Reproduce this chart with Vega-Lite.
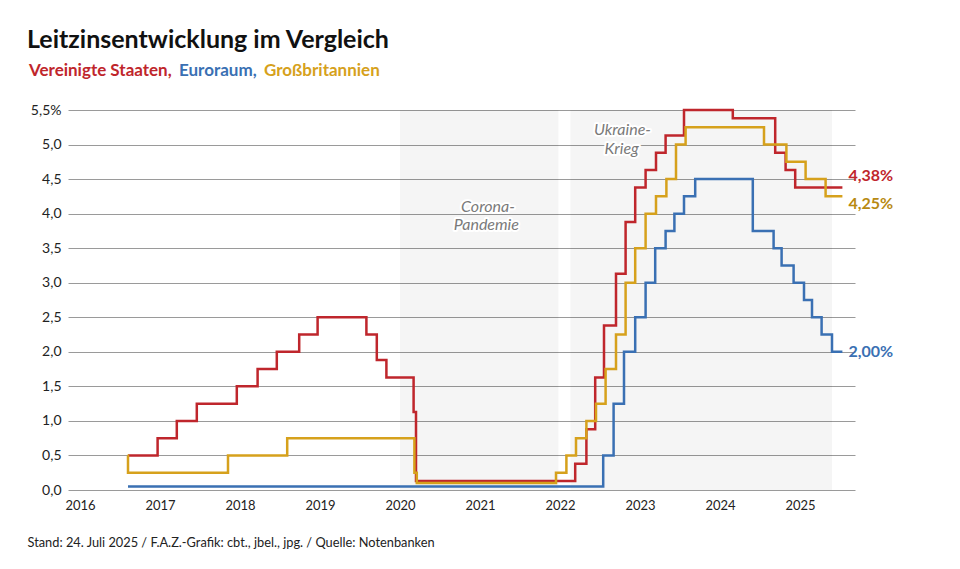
{
  "$schema": "https://vega.github.io/schema/vega-lite/v6.json",
  "autosize": "none",
  "width": 787,
  "height": 380,
  "padding": {"left": 68, "top": 110, "right": 105, "bottom": 79},
  "background": "white",
  "title": {
    "text": "Leitzinsentwicklung im Vergleich",
    "anchor": "start",
    "frame": "bounds",
    "font": "Lato",
    "fontSize": 25,
    "fontWeight": "bold",
    "color": "#111111",
    "offset": 9
  },
  "config": {
    "view": {"stroke": null},
    "font": "Lato"
  },
  "datasets": {
    "rates": [
      {"series": "Vereinigte Staaten", "t": 2016.60, "v": 0.5},
      {"series": "Vereinigte Staaten", "t": 2016.97, "v": 0.75},
      {"series": "Vereinigte Staaten", "t": 2017.21, "v": 1.0},
      {"series": "Vereinigte Staaten", "t": 2017.46, "v": 1.25},
      {"series": "Vereinigte Staaten", "t": 2017.96, "v": 1.5},
      {"series": "Vereinigte Staaten", "t": 2018.22, "v": 1.75},
      {"series": "Vereinigte Staaten", "t": 2018.46, "v": 2.0},
      {"series": "Vereinigte Staaten", "t": 2018.74, "v": 2.25},
      {"series": "Vereinigte Staaten", "t": 2018.97, "v": 2.5},
      {"series": "Vereinigte Staaten", "t": 2019.58, "v": 2.25},
      {"series": "Vereinigte Staaten", "t": 2019.71, "v": 1.88},
      {"series": "Vereinigte Staaten", "t": 2019.83, "v": 1.63},
      {"series": "Vereinigte Staaten", "t": 2020.17, "v": 1.13},
      {"series": "Vereinigte Staaten", "t": 2020.20, "v": 0.13},
      {"series": "Vereinigte Staaten", "t": 2022.19, "v": 0.38},
      {"series": "Vereinigte Staaten", "t": 2022.33, "v": 0.88},
      {"series": "Vereinigte Staaten", "t": 2022.44, "v": 1.63},
      {"series": "Vereinigte Staaten", "t": 2022.55, "v": 2.38},
      {"series": "Vereinigte Staaten", "t": 2022.70, "v": 3.13},
      {"series": "Vereinigte Staaten", "t": 2022.82, "v": 3.88},
      {"series": "Vereinigte Staaten", "t": 2022.94, "v": 4.38},
      {"series": "Vereinigte Staaten", "t": 2023.07, "v": 4.63},
      {"series": "Vereinigte Staaten", "t": 2023.20, "v": 4.88},
      {"series": "Vereinigte Staaten", "t": 2023.32, "v": 5.13},
      {"series": "Vereinigte Staaten", "t": 2023.55, "v": 5.5},
      {"series": "Vereinigte Staaten", "t": 2024.16, "v": 5.38},
      {"series": "Vereinigte Staaten", "t": 2024.69, "v": 4.88},
      {"series": "Vereinigte Staaten", "t": 2024.82, "v": 4.63},
      {"series": "Vereinigte Staaten", "t": 2024.94, "v": 4.38},
      {"series": "Vereinigte Staaten", "t": 2025.53, "v": 4.38},
      {"series": "Euroraum", "t": 2016.60, "v": 0.05},
      {"series": "Euroraum", "t": 2022.54, "v": 0.5},
      {"series": "Euroraum", "t": 2022.67, "v": 1.25},
      {"series": "Euroraum", "t": 2022.80, "v": 2.0},
      {"series": "Euroraum", "t": 2022.94, "v": 2.5},
      {"series": "Euroraum", "t": 2023.07, "v": 3.0},
      {"series": "Euroraum", "t": 2023.19, "v": 3.5},
      {"series": "Euroraum", "t": 2023.32, "v": 3.75},
      {"series": "Euroraum", "t": 2023.43, "v": 4.0},
      {"series": "Euroraum", "t": 2023.55, "v": 4.25},
      {"series": "Euroraum", "t": 2023.69, "v": 4.5},
      {"series": "Euroraum", "t": 2024.41, "v": 3.75},
      {"series": "Euroraum", "t": 2024.67, "v": 3.5},
      {"series": "Euroraum", "t": 2024.77, "v": 3.25},
      {"series": "Euroraum", "t": 2024.92, "v": 3.0},
      {"series": "Euroraum", "t": 2025.05, "v": 2.75},
      {"series": "Euroraum", "t": 2025.15, "v": 2.5},
      {"series": "Euroraum", "t": 2025.27, "v": 2.25},
      {"series": "Euroraum", "t": 2025.40, "v": 2.0},
      {"series": "Euroraum", "t": 2025.53, "v": 2.0},
      {"series": "Großbritannien", "t": 2016.595, "v": 0.5},
      {"series": "Großbritannien", "t": 2016.60, "v": 0.25},
      {"series": "Großbritannien", "t": 2017.85, "v": 0.5},
      {"series": "Großbritannien", "t": 2018.59, "v": 0.75},
      {"series": "Großbritannien", "t": 2020.18, "v": 0.25},
      {"series": "Großbritannien", "t": 2020.21, "v": 0.1},
      {"series": "Großbritannien", "t": 2021.95, "v": 0.25},
      {"series": "Großbritannien", "t": 2022.08, "v": 0.5},
      {"series": "Großbritannien", "t": 2022.20, "v": 0.75},
      {"series": "Großbritannien", "t": 2022.33, "v": 1.0},
      {"series": "Großbritannien", "t": 2022.45, "v": 1.25},
      {"series": "Großbritannien", "t": 2022.57, "v": 1.75},
      {"series": "Großbritannien", "t": 2022.70, "v": 2.25},
      {"series": "Großbritannien", "t": 2022.82, "v": 3.0},
      {"series": "Großbritannien", "t": 2022.94, "v": 3.5},
      {"series": "Großbritannien", "t": 2023.07, "v": 4.0},
      {"series": "Großbritannien", "t": 2023.20, "v": 4.25},
      {"series": "Großbritannien", "t": 2023.33, "v": 4.5},
      {"series": "Großbritannien", "t": 2023.45, "v": 5.0},
      {"series": "Großbritannien", "t": 2023.57, "v": 5.25},
      {"series": "Großbritannien", "t": 2024.55, "v": 5.0},
      {"series": "Großbritannien", "t": 2024.83, "v": 4.75},
      {"series": "Großbritannien", "t": 2025.07, "v": 4.5},
      {"series": "Großbritannien", "t": 2025.32, "v": 4.25},
      {"series": "Großbritannien", "t": 2025.53, "v": 4.25}
    ],
    "periods": [
      {"name": "Corona-Pandemie", "start": 2020.0, "end": 2021.98},
      {"name": "Ukraine-Krieg", "start": 2022.13, "end": 2025.40}
    ],
    "notes": [
      {"text": "Corona-", "t": 2021.1, "v": 4.1},
      {"text": "Pandemie", "t": 2021.08, "v": 3.84},
      {"text": "Ukraine-", "t": 2022.78, "v": 5.21},
      {"text": "Krieg", "t": 2022.77, "v": 4.93}
    ],
    "ends": [
      {"series": "Vereinigte Staaten", "t": 2025.53, "v": 4.38, "label": "4,38%"},
      {"series": "Euroraum", "t": 2025.53, "v": 2.0, "label": "2,00%"},
      {"series": "Großbritannien", "t": 2025.53, "v": 4.25, "label": "4,25%"}
    ]
  },
  "layer": [
    {
      "data": {"name": "periods"},
      "mark": {"type": "rect", "fill": "#000000", "opacity": 0.038},
      "encoding": {
        "x": {
          "field": "start",
          "type": "quantitative",
          "scale": {"domain": [2015.85, 2025.6875], "nice": false, "zero": false},
          "axis": {
            "title": "Stand: 24. Juli 2025 / F.A.Z.-Grafik: cbt., jbel., jpg. / Quelle: Notenbanken",
            "titleFont": "Lato",
            "titleFontSize": 12.8,
            "titleFontWeight": "normal",
            "titleColor": "#222222",
            "titleAnchor": "start",
            "titleAlign": "left",
            "titleBaseline": "alphabetic",
            "titleX": -41,
            "titleY": 56,
            "values": [2016, 2017, 2018, 2019, 2020, 2021, 2022, 2023, 2024, 2025],
            "tickCount": 30,
            "format": "d",
            "grid": false,
            "ticks": false,
            "domain": false,
            "labelFont": "Lato",
            "labelFontSize": 13,
            "labelColor": "#222222",
            "labelPadding": 9
          }
        },
        "x2": {"field": "end"},
        "y": {
          "datum": 5.5,
          "type": "quantitative",
          "scale": {"domain": [0, 5.5], "nice": false},
          "axis": {
            "title": null,
            "tickCount": 30,
            "values": [0, 0.5, 1, 1.5, 2, 2.5, 3, 3.5, 4, 4.5, 5, 5.5],
            "labelExpr": "datum.value == 5.5 ? '5,5%' : replace(format(datum.value, '.1f'), '.', ',')",
            "labelOverlap": false,
            "grid": true,
            "gridColor": "#9a9a9a",
            "gridWidth": 1,
            "ticks": false,
            "domain": false,
            "labelFont": "Lato",
            "labelFontSize": 14,
            "labelColor": "#222222",
            "labelPadding": 7
          }
        },
        "y2": {"datum": 0}
      }
    },
    {
      "data": {"name": "rates"},
      "mark": {"type": "line", "interpolate": "step-after", "strokeWidth": 2.5, "strokeJoin": "miter", "strokeCap": "butt"},
      "encoding": {
        "x": {"field": "t", "type": "quantitative"},
        "y": {"field": "v", "type": "quantitative"},
        "color": {
          "field": "series",
          "type": "nominal",
          "scale": {
            "domain": ["Vereinigte Staaten", "Euroraum", "Großbritannien"],
            "range": ["#bf262c", "#3a70b3", "#d6a11c"]
          },
          "legend": {
            "title": null,
            "orient": "none",
            "legendX": -41,
            "legendY": -48,
            "direction": "horizontal",
            "symbolSize": 0.001,
            "symbolStrokeWidth": 0,
            "symbolOpacity": 0,
            "labelOffset": -15,
            "columnPadding": 5,
            "padding": 0,
            "labelFont": "Lato",
            "labelFontSize": 17,
            "labelFontWeight": "bold",
            "labelExpr": "datum.label == 'Großbritannien' ? datum.label : datum.label + ','",
            "encode": {
              "labels": {"update": {"fill": {"signal": "scale('color', datum.value)"}}}
            }
          }
        }
      }
    },
    {
      "data": {"name": "notes"},
      "mark": {"type": "text", "font": "Lato", "fontSize": 16, "fontStyle": "italic", "stroke": "white", "strokeWidth": 4, "strokeJoin": "round", "fill": "white"},
      "encoding": {
        "x": {"field": "t", "type": "quantitative"},
        "y": {"field": "v", "type": "quantitative"},
        "text": {"field": "text"}
      }
    },
    {
      "data": {"name": "notes"},
      "mark": {"type": "text", "font": "Lato", "fontSize": 16, "fontStyle": "italic", "fill": "#7a7a7a"},
      "encoding": {
        "x": {"field": "t", "type": "quantitative"},
        "y": {"field": "v", "type": "quantitative"},
        "text": {"field": "text"}
      }
    },
    {
      "data": {"name": "ends"},
      "transform": [{"filter": "datum.series == 'Vereinigte Staaten'"}],
      "mark": {"type": "text", "align": "left", "dx": 6, "dy": -11, "font": "Lato", "fontSize": 16, "fontWeight": "bold", "fill": "#bf262c"},
      "encoding": {
        "x": {"field": "t", "type": "quantitative"},
        "y": {"field": "v", "type": "quantitative"},
        "text": {"field": "label"}
      }
    },
    {
      "data": {"name": "ends"},
      "transform": [{"filter": "datum.series == 'Großbritannien'"}],
      "mark": {"type": "text", "align": "left", "dx": 6, "dy": 8, "font": "Lato", "fontSize": 16, "fontWeight": "bold", "fill": "#b88a12"},
      "encoding": {
        "x": {"field": "t", "type": "quantitative"},
        "y": {"field": "v", "type": "quantitative"},
        "text": {"field": "label"}
      }
    },
    {
      "data": {"name": "ends"},
      "transform": [{"filter": "datum.series == 'Euroraum'"}],
      "mark": {"type": "text", "align": "left", "dx": 6, "dy": 0, "font": "Lato", "fontSize": 16, "fontWeight": "bold", "fill": "#3a70b3"},
      "encoding": {
        "x": {"field": "t", "type": "quantitative"},
        "y": {"field": "v", "type": "quantitative"},
        "text": {"field": "label"}
      }
    }
  ]
}
